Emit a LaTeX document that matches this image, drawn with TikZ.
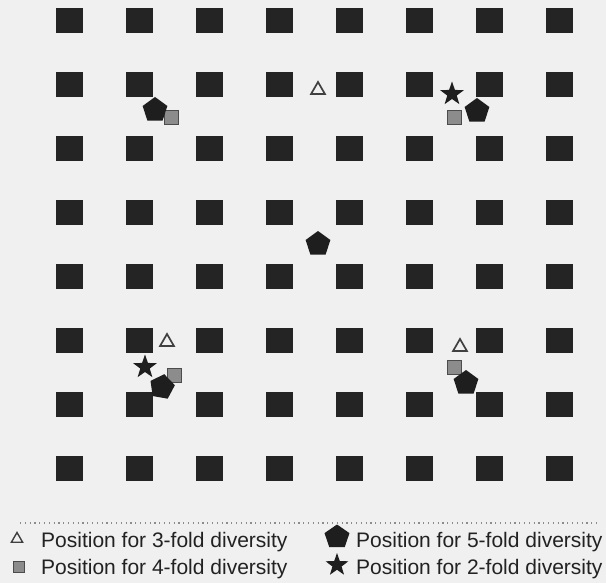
\documentclass[tikz,border=0pt]{standalone}
\usepackage{fontspec}
\setmainfont{Liberation Sans}
\usetikzlibrary{shapes.geometric}
\definecolor{bgc}{RGB}{240,240,240}
\definecolor{sqc}{RGB}{36,36,36}
\definecolor{pentc}{RGB}{30,30,30}
\definecolor{txtc}{RGB}{34,34,34}
\tikzset{
  cell/.style={rectangle, fill=sqc, minimum width=27pt, minimum height=25pt, inner sep=0pt},
  tri/.style={regular polygon, regular polygon sides=3, draw=black!75, line width=1.7pt, minimum size=16pt, inner sep=0pt},
  pent/.style={regular polygon, regular polygon sides=5, fill=pentc, minimum size=26pt, inner sep=0pt},
  gsq/.style={rectangle, fill=black!45, draw=black!70, line width=1pt, minimum size=14pt, inner sep=0pt},
  starm/.style={star, star points=5, star point ratio=2.5, fill=pentc, minimum size=25pt, inner sep=0pt},
  legtext/.style={anchor=base west, font=\fontsize{21}{24}\selectfont, text=txtc, inner sep=0pt},
}
\begin{document}
\begin{tikzpicture}[x=1pt,y=-1pt]
\fill[bgc] (0,0) rectangle (606,583);
\useasboundingbox (0,0) rectangle (606,583);
% grid
\foreach \i in {0,...,7}{
  \foreach \j in {0,...,7}{
    \node[cell] (sq-\i-\j) at ({69+70.14*\i},{21+63.86*\j}) {};
  }
}
% triangles (3-fold)
\node[tri] (t1) at (318,90) {};
\node[tri] (t2) at (167,342) {};
\node[tri] (t3) at (460,347) {};
% gray squares (4-fold)
\node[gsq] (g1) at (171,118) {};
\node[gsq] (g2) at (454,118) {};
\node[gsq] (g3) at (174,375) {};
\node[gsq] (g4) at (454,367) {};
% stars (2-fold)
\node[starm] (s1) at (452,94) {};
\node[starm] (s2) at (145,367) {};
% pentagons (5-fold)
\node[pent] (p1) at (155,110) {};
\node[pent] (p2) at (477,111) {};
\node[pent] (p3) at (318,244) {};
\node[pent, rotate=-10] (p4) at (162,387) {};
\node[pent] (p5) at (466,383) {};
% legend separator
\coordinate (lineL) at (20,523);
\coordinate (lineR) at (598,523);
\draw[black!45, line width=1.1pt, dash pattern=on 1.2pt off 3.6pt] (lineL) -- (lineR);
% legend
\node[tri, minimum size=13pt, line width=1.4pt] (lt) at (17,539) {};
\node[gsq, minimum size=11pt] (lg) at (18.5,567) {};
\node[pent, minimum size=25pt, xscale=1.05] (lp) at (337,537) {};
\node[starm, minimum size=24pt] (ls) at (337,565) {};
\node[legtext] (lt-text) at (41,547) {Position for 3-fold diversity};
\node[legtext] (lg-text) at (41,574) {Position for 4-fold diversity};
\node[legtext] (lp-text) at (356,547) {Position for 5-fold diversity};
\node[legtext] (ls-text) at (356,574) {Position for 2-fold diversity};
\end{tikzpicture}
\end{document}
